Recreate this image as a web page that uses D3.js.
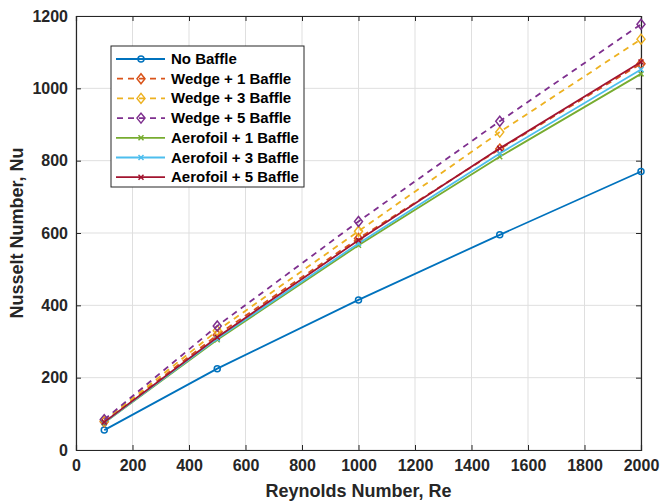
<!DOCTYPE html>
<html><head><meta charset="utf-8">
<script src="https://cdn.jsdelivr.net/npm/d3@7"></script>
<style>body{margin:0;background:#fff}svg{display:block}text{font-family:"Liberation Sans",Arial,sans-serif;font-weight:bold}</style>
</head><body><svg id="c" width="660" height="504"></svg>
<script>
const reynolds = [100, 500, 1000, 1500, 2000];
const seriesNames = ["No Baffle","Wedge + 1 Baffle","Wedge + 3 Baffle","Wedge + 5 Baffle","Aerofoil + 1 Baffle","Aerofoil + 3 Baffle","Aerofoil + 5 Baffle"];
const noBaffle = [55, 225, 415, 595, 770];
const wedge1 = [78, 318, 585, 832, 1068];
const wedge3 = [80, 330, 605, 879, 1136];
const wedge5 = [84, 343, 632, 909, 1177];
const aero1 = [75, 305, 566, 811, 1040];
const aero3 = [76, 308, 571, 820, 1052];
const aero5 = [77, 312, 580, 834, 1073];
const xTicks = [0,200,400,600,800,1000,1200,1400,1600,1800,2000];
const yTicks = [0,200,400,600,800,1000,1200];

const styles = [
  {c:"#0072BD", dash:null, m:"o"},
  {c:"#D95319", dash:"6,5", m:"d"},
  {c:"#EDB120", dash:"6,5", m:"d"},
  {c:"#7E2F8E", dash:"6,5", m:"d"},
  {c:"#77AC30", dash:null, m:"x"},
  {c:"#4DBEEE", dash:null, m:"x"},
  {c:"#A2142F", dash:null, m:"x"}
];
const data = [noBaffle, wedge1, wedge3, wedge5, aero1, aero3, aero5];

const L=76, R=641, T=16, B=450;
const svg = d3.select("#c");
const x = d3.scaleLinear().domain([0,2000]).range([L,R]);
const y = d3.scaleLinear().domain([0,1200]).range([B,T]);

const g = svg.append("g");
g.selectAll("line.gx").data(xTicks).join("line").attr("x1",d=>x(d)).attr("x2",d=>x(d)).attr("y1",T).attr("y2",B).attr("stroke","#dfdfdf").attr("stroke-width",1);
g.selectAll("line.gy").data(yTicks).join("line").attr("y1",d=>y(d)).attr("y2",d=>y(d)).attr("x1",L).attr("x2",R).attr("stroke","#dfdfdf").attr("stroke-width",1);

const fmt = d3.format("d");
const xa = svg.append("g").attr("transform",`translate(0,${B})`).call(d3.axisBottom(x).tickValues(xTicks).tickSize(-5).tickPadding(10).tickFormat(fmt));
const ya = svg.append("g").attr("transform",`translate(${L},0)`).call(d3.axisLeft(y).tickValues(yTicks).tickSize(-5).tickPadding(8).tickFormat(fmt));
const xt = svg.append("g").attr("transform",`translate(0,${T})`).call(d3.axisTop(x).tickValues(xTicks).tickSize(-5).tickFormat(""));
const yr = svg.append("g").attr("transform",`translate(${R},0)`).call(d3.axisRight(y).tickValues(yTicks).tickSize(-5).tickFormat(""));
[xa,ya,xt,yr].forEach(a=>{a.select(".domain").attr("stroke","#262626").attr("stroke-width",1.2);a.selectAll(".tick line").attr("stroke","#262626");a.selectAll("text").attr("fill","#262626").style("font-size","16px").style("font-weight","bold");});

const line = d3.line().x((d,i)=>x(reynolds[i])).y(d=>y(d));
function marker(sel, type, col){
  if(type==="o") sel.append("circle").attr("r",3).attr("fill","none").attr("stroke",col).attr("stroke-width",1.5);
  else if(type==="d") sel.append("path").attr("d","M0,-5L4,0L0,5L-4,0Z").attr("fill","none").attr("stroke",col).attr("stroke-width",1.5);
  else sel.append("path").attr("d","M-2.5,-2.5L2.5,2.5M-2.5,2.5L2.5,-2.5").attr("fill","none").attr("stroke",col).attr("stroke-width",1.5);
}
data.forEach((vals,k)=>{
  const s=styles[k];
  svg.append("path").datum(vals).attr("d",line).attr("fill","none").attr("stroke",s.c).attr("stroke-width",1.8).attr("stroke-dasharray",s.dash);
  vals.forEach((v,i)=>{const m=svg.append("g").attr("transform",`translate(${x(reynolds[i])},${y(v)})`);marker(m,s.m,s.c);});
});

svg.append("text").attr("x",(L+R)/2).attr("y",497).attr("text-anchor","middle").style("font-size","18px").attr("fill","#262626").text("Reynolds Number, Re");
svg.append("text").attr("transform",`translate(23,${(T+B)/2}) rotate(-90)`).attr("text-anchor","middle").style("font-size","18px").attr("fill","#262626").text("Nusselt Number, Nu");

const lg = svg.append("g");
lg.append("rect").attr("x",111).attr("y",46).attr("width",193).attr("height",141).attr("fill","#fff").attr("stroke","#262626").attr("stroke-width",1);
seriesNames.forEach((n,k)=>{
  const s=styles[k], yy=59+k*19.7;
  lg.append("line").attr("x1",116).attr("x2",165).attr("y1",yy).attr("y2",yy).attr("stroke",s.c).attr("stroke-width",1.8).attr("stroke-dasharray",s.dash?"6,5":null).attr("stroke-dashoffset",s.dash?-1:null);
  marker(lg.append("g").attr("transform",`translate(141,${yy})`),s.m,s.c);
  lg.append("text").attr("x",171).attr("y",yy+5).style("font-size","15px").attr("fill","#000").text(n);
});
</script></body></html>
